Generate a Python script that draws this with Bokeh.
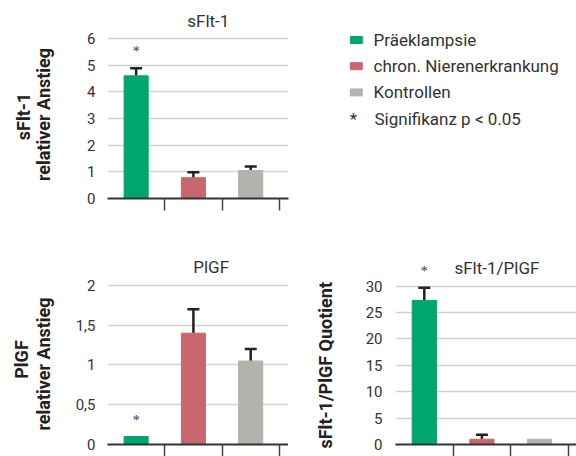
import math
from bokeh.plotting import figure
from bokeh.layouts import column, row
from bokeh.models import (ColumnDataSource, Range1d, FixedTicker, Whisker, TeeHead,
                          Label, LabelSet, Title, CustomJSTickFormatter)
from bokeh.embed import file_html
from bokeh.resources import INLINE

# ---------------- data ----------------
categories = ["Präeklampsie", "chron. Nierenerkrankung", "Kontrollen"]
colors = ["#00A66C", "#C8666D", "#B3B3AD"]
significant = [True, False, False]

sflt1_values = [4.6, 0.78, 1.05]
sflt1_err_top = [4.88, 0.98, 1.2]

plgf_values = [0.1, 1.4, 1.05]
plgf_err_top = [None, 1.7, 1.2]

ratio_values = [27.3, 1.0, 1.0]
ratio_err_top = [29.7, 1.85, None]

sflt1_ticks = [0, 1, 2, 3, 4, 5, 6]
plgf_ticks = [0, 0.5, 1, 1.5, 2]
ratio_ticks = [0, 5, 10, 15, 20, 25, 30]

sflt1_ylabel = ["sFlt-1", "relativer Anstieg"]
plgf_ylabel = ["PlGF", "relativer Anstieg"]
ratio_ylabel = "sFlt-1/PlGF Quotient"

legend_star_text = "Signifikanz p < 0.05"

FONT = "Roboto"
TXT = "#333333"
LBL = "#222222"


def blank(fig):
    fig.outline_line_color = None
    fig.axis.visible = False
    fig.grid.visible = False
    fig.background_fill_color = None
    fig.border_fill_color = None


def panel(title, values, err_top, ticks, width, height, border_left, border_right,
          border_bottom, x_end, y_end, title_x, title_y, tick_standoff):
    x = [i + 0.5 for i in range(len(values))]
    p = figure(width=width, height=height, output_backend="svg", toolbar_location=None,
               x_range=Range1d(0, x_end), y_range=Range1d(0, y_end),
               min_border_left=border_left, min_border_right=border_right,
               min_border_top=0, min_border_bottom=border_bottom)
    p.outline_line_color = None
    p.background_fill_color = None
    p.border_fill_color = None
    src = ColumnDataSource(dict(x=x, top=values, color=colors, cat=categories))
    p.vbar(x="x", top="top", bottom=0, width=0.42, color="color", source=src)

    ex = [xi for xi, e in zip(x, err_top) if e is not None]
    ev = [v for v, e in zip(values, err_top) if e is not None]
    ee = [e for e in err_top if e is not None]
    esrc = ColumnDataSource(dict(x=ex, base=ev, up=ee))
    w = Whisker(source=esrc, base="x", lower="base", upper="up", dimension="height",
                lower_head=None,
                upper_head=TeeHead(size=12, line_color=LBL, line_width=2.5),
                line_color=LBL, line_width=2.5)
    p.add_layout(w)

    sx, sy = [], []
    for xi, v, e, s in zip(x, values, err_top, significant):
        if s:
            sx.append(xi)
            sy.append(e if e is not None else v)
    ssrc = ColumnDataSource(dict(x=sx, y=sy, star=["*"] * len(sx)))
    p.add_layout(LabelSet(x="x", y="y", text="star", source=ssrc, y_offset=12,
                          text_align="center", text_baseline="alphabetic",
                          text_font=FONT, text_font_size="14px", text_color=TXT))

    p.add_layout(Label(x=title_x, y=title_y, text=title, text_align="center",
                       text_baseline="middle", text_font=FONT, text_font_size="17px",
                       text_color=TXT))

    p.xgrid.grid_line_color = None
    p.ygrid.ticker = FixedTicker(ticks=ticks)
    p.ygrid.grid_line_color = "#d2d2d2"
    p.ygrid.grid_line_width = 1.5

    xa = p.xaxis[0]
    xa.ticker = FixedTicker(ticks=[1, 2, 3])
    xa.formatter = CustomJSTickFormatter(code="return '';")
    xa.major_tick_out = 12
    xa.major_tick_in = 0
    xa.major_tick_line_color = "#444444"
    xa.major_tick_line_width = 1.5
    xa.minor_tick_line_color = None
    xa.axis_line_color = "#333333"
    xa.axis_line_width = 2
    xa.major_label_text_font_size = "1px"
    xa.major_label_standoff = 0

    ya = p.yaxis[0]
    ya.ticker = FixedTicker(ticks=ticks)
    ya.formatter = CustomJSTickFormatter(code="return String(tick).replace('.', ',');")
    ya.axis_line_color = None
    ya.major_tick_line_color = None
    ya.minor_tick_line_color = None
    ya.major_tick_out = 0
    ya.major_tick_in = 0
    ya.major_label_standoff = tick_standoff
    ya.major_label_text_font = FONT
    ya.major_label_text_font_size = "15px"
    ya.major_label_text_color = TXT
    return p


def label_fig(lines, width, height, border_bottom, y_top, y_bottom, xs, ys):
    f = figure(width=width, height=height, output_backend="svg", toolbar_location=None,
               x_range=Range1d(0, width), y_range=Range1d(y_bottom, y_top),
               min_border_left=0, min_border_right=0, min_border_top=0,
               min_border_bottom=border_bottom)
    blank(f)
    src = ColumnDataSource(dict(x=xs, y=ys, t=lines))
    f.text(x="x", y="y", text="t", source=src, angle=math.pi / 2,
           text_align="center", text_baseline="alphabetic",
           text_font={"value": FONT}, text_font_style="bold",
           text_font_size={"value": "18px"}, text_color=LBL)
    return f


LW = 60  # width of the y-label strip on the left

# ---------------- panels ----------------
p1 = panel("sFlt-1", sflt1_values, sflt1_err_top, sflt1_ticks,
           300 - LW, 248, 107 - LW, 12, 50, 3.16, 7.425, 1.76, 6.64, 12)
p2 = panel("PlGF", plgf_values, plgf_err_top, plgf_ticks,
           288 - LW, 208, 107 - LW, 0, 12, 3.16, 2.465, 1.81, 2.23, 12)
p3 = panel("sFlt-1/PlGF", ratio_values, ratio_err_top, ratio_ticks,
           288, 208, 107, 0, 12, 3.142, 37.14, 1.76, 33.5, 13)
p3.add_layout(Title(text=ratio_ylabel, align="left", offset=-4, vertical_align="middle",
                    standoff=51, text_font=FONT, text_font_style="bold",
                    text_font_size="18px", text_color=LBL), "left")

lf1 = label_fig(sflt1_ylabel, LW, 248, 50, 0, 198, [23.3, 43.3], [116, 114])
lf2 = label_fig(plgf_ylabel, LW, 208, 12, 248, 444, [21, 43.3], [359, 363.5])

# ---------------- legend panel ----------------
pl = figure(width=276, height=248, output_backend="svg", toolbar_location=None,
            x_range=Range1d(300, 576), y_range=Range1d(198, 0),
            min_border_left=0, min_border_right=0, min_border_top=0, min_border_bottom=50)
blank(pl)

row_y = [39.5 + 26.2 * i for i in range(len(categories))]
lsrc = ColumnDataSource(dict(x=[355.8] * len(categories), y=row_y, color=colors,
                             tx=[373] * len(categories), label=categories))
pl.rect(x="x", y="y", width=12, height=7, color="color", source=lsrc)
pl.text(x="tx", y="y", text="label", source=lsrc, text_align="left",
        text_baseline="middle", text_font={"value": FONT}, text_font_size={"value": "17px"},
        text_color=TXT)
star_row = 39.5 + 26.2 * len(categories)
pl.add_layout(Label(x=353, y=star_row, text="*", text_align="center",
                    text_baseline="middle", text_font=FONT, text_font_size="17px",
                    text_color=TXT))
pl.add_layout(Label(x=374, y=star_row, text=legend_star_text, text_align="left",
                    text_baseline="middle", text_font=FONT, text_font_size="17px",
                    text_color=TXT))

layout = column(row(lf1, p1, pl), row(lf2, p2, p3))
open("out.html", "w").write(file_html(layout, INLINE))
